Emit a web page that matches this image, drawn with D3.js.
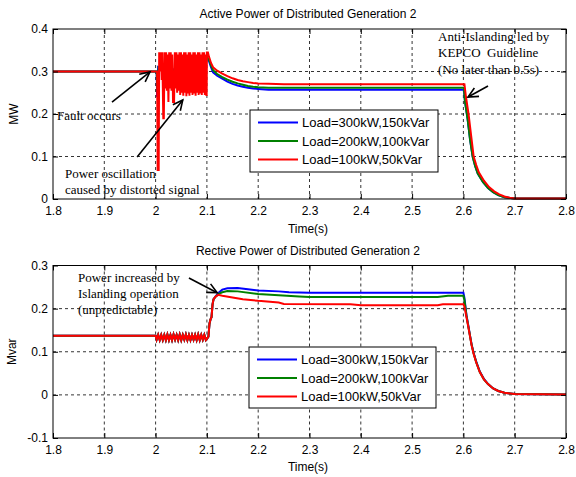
<!DOCTYPE html>
<html>
<head>
<meta charset="utf-8">
<script src="https://cdn.jsdelivr.net/npm/d3@7"></script>
<style>
  html, body { margin: 0; padding: 0; background: #fff; }
  svg { display: block; }
  text { fill: #000; }
</style>
</head>
<body>
<svg id="chart" width="576" height="477"></svg>
<script>
// ---- Data -------------------------------------------------------------
const timeTicks = [1.8, 1.9, 2.0, 2.1, 2.2, 2.3, 2.4, 2.5, 2.6, 2.7, 2.8];
const timeTickLabels = ["1.8", "1.9", "2", "2.1", "2.2", "2.3", "2.4", "2.5", "2.6", "2.7", "2.8"];
const activeTicks = [0, 0.1, 0.2, 0.3, 0.4];
const activeTickLabels = ["0", "0.1", "0.2", "0.3", "0.4"];
const reactiveTicks = [-0.1, 0, 0.1, 0.2, 0.3];
const reactiveTickLabels = ["-0.1", "0", "0.1", "0.2", "0.3"];

const seriesNames = ["Load=300kW,150kVar", "Load=200kW,100kVar", "Load=100kW,50kVar"];
const seriesColors = ["#0000ff", "#008000", "#ff0000"];

// Active power [time s, MW]
const activeLoad300 = [
  [1.8, 0.3], [2.0, 0.3], [2.002, 0.3], [2.003, 0.24], [2.005, 0.31], [2.02, 0.3], [2.05, 0.31],
  [2.08, 0.3], [2.1, 0.33], [2.104, 0.325], [2.108, 0.31], [2.112, 0.298], [2.12, 0.29],
  [2.13, 0.283], [2.14, 0.276], [2.15, 0.271], [2.16, 0.267], [2.17, 0.264], [2.18, 0.262],
  [2.19, 0.26], [2.2, 0.259], [2.22, 0.257], [2.26, 0.257], [2.6, 0.257], [2.601, 0.257],
  [2.603, 0.23], [2.608, 0.19], [2.613, 0.14], [2.618, 0.1], [2.623, 0.077], [2.628, 0.06],
  [2.638, 0.04], [2.648, 0.026], [2.658, 0.016], [2.668, 0.009], [2.68, 0.004], [2.7, 0.001],
  [2.8, 0.001]
];
const activeLoad200 = [
  [1.8, 0.3], [2.0, 0.3], [2.002, 0.3], [2.004, 0.25], [2.006, 0.31], [2.03, 0.3], [2.06, 0.31],
  [2.09, 0.3], [2.1, 0.335], [2.104, 0.328], [2.108, 0.315], [2.112, 0.303], [2.12, 0.294],
  [2.13, 0.287], [2.14, 0.281], [2.15, 0.276], [2.16, 0.272], [2.17, 0.269], [2.18, 0.266],
  [2.19, 0.264], [2.2, 0.263], [2.22, 0.262], [2.26, 0.262], [2.6, 0.262], [2.601, 0.262],
  [2.603, 0.23], [2.608, 0.19], [2.613, 0.14], [2.618, 0.1], [2.623, 0.077], [2.628, 0.06],
  [2.638, 0.04], [2.648, 0.026], [2.658, 0.016], [2.668, 0.009], [2.68, 0.004], [2.7, 0.001],
  [2.8, 0.001]
];
const activeLoad100 = [
  [1.8, 0.3], [2.0, 0.3], [2.002, 0.3], [2.003, 0.3], [2.004, 0.068], [2.006, 0.068],
  [2.007, 0.345], [2.009, 0.3], [2.0105, 0.345], [2.012, 0.28], [2.013, 0.345], [2.015, 0.19],
  [2.016, 0.19], [2.0175, 0.345], [2.019, 0.26], [2.0205, 0.345], [2.022, 0.255], [2.0235, 0.34],
  [2.025, 0.228], [2.0265, 0.345], [2.028, 0.26], [2.0295, 0.345], [2.031, 0.255], [2.0325, 0.34],
  [2.034, 0.228], [2.036, 0.228], [2.0375, 0.345], [2.039, 0.26], [2.0405, 0.345], [2.042, 0.25],
  [2.0435, 0.34], [2.045, 0.255], [2.0465, 0.345], [2.048, 0.245], [2.0495, 0.345], [2.051, 0.25],
  [2.0525, 0.34], [2.054, 0.243], [2.0555, 0.345], [2.057, 0.25], [2.0585, 0.345], [2.06, 0.242],
  [2.0615, 0.34], [2.063, 0.248], [2.0645, 0.345], [2.066, 0.243], [2.0675, 0.345], [2.069, 0.25],
  [2.0705, 0.34], [2.072, 0.245], [2.0735, 0.345], [2.075, 0.248], [2.0765, 0.345], [2.078, 0.243],
  [2.0795, 0.34], [2.081, 0.25], [2.0825, 0.345], [2.084, 0.245], [2.0855, 0.345], [2.087, 0.248],
  [2.0885, 0.34], [2.09, 0.245], [2.0915, 0.345], [2.093, 0.25], [2.0945, 0.345], [2.096, 0.245],
  [2.0975, 0.34], [2.099, 0.245], [2.0995, 0.245], [2.1, 0.345], [2.102, 0.345], [2.104, 0.335],
  [2.108, 0.32], [2.112, 0.31], [2.12, 0.302], [2.13, 0.295], [2.14, 0.289], [2.15, 0.284],
  [2.16, 0.28], [2.17, 0.277], [2.18, 0.275], [2.19, 0.273], [2.2, 0.272], [2.22, 0.271],
  [2.25, 0.27], [2.6, 0.27], [2.602, 0.27], [2.605, 0.24], [2.61, 0.2], [2.615, 0.15],
  [2.62, 0.1], [2.625, 0.08], [2.63, 0.063], [2.64, 0.043], [2.65, 0.028], [2.66, 0.018],
  [2.67, 0.011], [2.68, 0.006], [2.69, 0.003], [2.7, 0.001], [2.8, 0.001]
];

// Reactive power [time s, Mvar]
const reactiveBase = [
  [1.8, 0.137], [2.0, 0.137], [2.002, 0.128], [2.005, 0.139], [2.008, 0.127], [2.011, 0.139],
  [2.014, 0.127], [2.017, 0.139], [2.02, 0.127], [2.023, 0.14], [2.026, 0.127], [2.029, 0.139],
  [2.032, 0.127], [2.035, 0.14], [2.038, 0.128], [2.041, 0.139], [2.044, 0.127], [2.047, 0.14],
  [2.05, 0.127], [2.053, 0.139], [2.056, 0.128], [2.059, 0.14], [2.062, 0.127], [2.065, 0.139],
  [2.068, 0.127], [2.071, 0.139], [2.074, 0.128], [2.077, 0.139], [2.08, 0.127], [2.083, 0.14],
  [2.086, 0.127], [2.089, 0.139], [2.092, 0.128], [2.095, 0.139], [2.098, 0.127], [2.1, 0.13],
  [2.103, 0.135], [2.105, 0.165], [2.107, 0.175], [2.109, 0.18], [2.111, 0.21], [2.113, 0.222]
];
const reactiveLoad300 = reactiveBase.concat([
  [2.118, 0.23], [2.124, 0.238], [2.13, 0.244], [2.14, 0.247], [2.16, 0.248], [2.18, 0.245],
  [2.2, 0.242], [2.24, 0.24], [2.26, 0.238], [2.3, 0.237], [2.6, 0.237], [2.602, 0.225],
  [2.606, 0.185], [2.61, 0.158], [2.613, 0.137], [2.616, 0.117], [2.62, 0.097], [2.625, 0.077],
  [2.632, 0.054], [2.64, 0.037], [2.648, 0.025], [2.658, 0.015], [2.668, 0.009], [2.68, 0.005],
  [2.7, 0.002], [2.8, 0.001]
]);
const reactiveLoad200 = reactiveBase.concat([
  [2.118, 0.229], [2.124, 0.235], [2.13, 0.238], [2.14, 0.241], [2.16, 0.24], [2.2, 0.234],
  [2.24, 0.231], [2.28, 0.228], [2.3, 0.227], [2.55, 0.227], [2.57, 0.23], [2.6, 0.23],
  [2.602, 0.22], [2.606, 0.183], [2.61, 0.156], [2.613, 0.136], [2.616, 0.116], [2.62, 0.096],
  [2.625, 0.076], [2.632, 0.053], [2.64, 0.036], [2.648, 0.025], [2.658, 0.015], [2.668, 0.009],
  [2.68, 0.005], [2.7, 0.002], [2.8, 0.001]
]);
const reactiveLoad100 = reactiveBase.concat([
  [2.117, 0.228], [2.122, 0.232], [2.13, 0.23], [2.15, 0.226], [2.17, 0.222], [2.2, 0.218],
  [2.24, 0.214], [2.25, 0.211], [2.38, 0.21], [2.4, 0.208], [2.55, 0.208], [2.56, 0.21],
  [2.6, 0.21], [2.602, 0.205], [2.606, 0.18], [2.61, 0.155], [2.613, 0.135], [2.616, 0.115],
  [2.62, 0.095], [2.625, 0.075], [2.632, 0.053], [2.64, 0.036], [2.648, 0.025], [2.658, 0.015],
  [2.668, 0.009], [2.68, 0.005], [2.7, 0.002], [2.8, 0.001]
]);

// ---- Drawing ----------------------------------------------------------
const svg = d3.select("#chart");
svg.append("rect").attr("width", 576).attr("height", 477).attr("fill", "#fff");

const sansFont = "'Liberation Sans', Arial, sans-serif";
const serifFont = "'Liberation Serif', 'Times New Roman', serif";

function drawPanel(cfg) {
  const x = d3.scaleLinear().domain([1.8, 2.8]).range([53, 566]);
  const y = d3.scaleLinear().domain(cfg.yDomain).range(cfg.yRange);
  const g = svg.append("g");
  const [x0, x1] = x.range();
  const [yb, yt] = y.range();

  // dashed grid
  g.append("g").selectAll("line.vg").data(timeTicks.slice(1, -1)).join("line")
    .attr("x1", d => x(d)).attr("x2", d => x(d)).attr("y1", yt).attr("y2", yb)
    .attr("stroke", "#000").attr("stroke-width", 0.8).attr("stroke-dasharray", "3,3");
  g.append("g").selectAll("line.hg").data(cfg.yTicks.slice(1, -1)).join("line")
    .attr("x1", x0).attr("x2", x1).attr("y1", d => y(d)).attr("y2", d => y(d))
    .attr("stroke", "#000").attr("stroke-width", 0.8).attr("stroke-dasharray", "3,3");

  // series
  const line = d3.line().x(d => x(d[0])).y(d => y(d[1]));
  cfg.series.forEach((s, i) => {
    g.append("path").datum(s).attr("d", line)
      .attr("fill", "none").attr("stroke", seriesColors[i])
      .attr("stroke-width", 2).attr("stroke-linejoin", "miter");
  });

  // axes
  const xAxis = d3.axisBottom(x).tickValues(timeTicks)
    .tickFormat((d, i) => timeTickLabels[i]).tickSizeInner(-5).tickSizeOuter(0).tickPadding(7);
  const yAxis = d3.axisLeft(y).tickValues(cfg.yTicks)
    .tickFormat((d, i) => cfg.yTickLabels[i]).tickSizeInner(-5).tickSizeOuter(0).tickPadding(5);
  const xa = g.append("g").attr("transform", `translate(0,${yb})`).call(xAxis);
  const ya = g.append("g").attr("transform", `translate(${x0},0)`).call(yAxis);
  const xTop = g.append("g").attr("transform", `translate(0,${yt})`)
    .call(d3.axisTop(x).tickValues(timeTicks).tickFormat("").tickSizeInner(-5).tickSizeOuter(0));
  const yRight = g.append("g").attr("transform", `translate(${x1},0)`)
    .call(d3.axisRight(y).tickValues(cfg.yTicks).tickFormat("").tickSizeInner(-5).tickSizeOuter(0));
  [xa, ya, xTop, yRight].forEach(a => {
    a.select(".domain").remove();
    a.selectAll("line").attr("stroke", "#000");
    a.selectAll("text").attr("font-family", sansFont).attr("font-size", 12).attr("fill", "#000");
  });
  g.append("rect").attr("x", x0).attr("y", yt).attr("width", x1 - x0).attr("height", yb - yt)
    .attr("fill", "none").attr("stroke", "#000").attr("stroke-width", 1);

  // titles
  g.append("text").attr("x", 308).attr("y", cfg.titleY).attr("text-anchor", "middle")
    .attr("font-family", sansFont).attr("font-size", 12).text(cfg.title);
  g.append("text").attr("x", 308).attr("y", cfg.xLabelY).attr("text-anchor", "middle")
    .attr("font-family", sansFont).attr("font-size", 12).text("Time(s)");
  g.append("text").attr("transform", `translate(${cfg.yLabelX},${(yt + yb) / 2}) rotate(-90)`)
    .attr("text-anchor", "middle").attr("font-family", sansFont).attr("font-size", 12)
    .text(cfg.yLabel);

  // legend
  const lg = g.append("g");
  lg.append("rect").attr("x", cfg.legend.x).attr("y", cfg.legend.y)
    .attr("width", cfg.legend.w).attr("height", cfg.legend.h)
    .attr("fill", "#fff").attr("stroke", "#000").attr("stroke-width", 1);
  seriesNames.forEach((name, i) => {
    const ly = cfg.legend.y + 12.5 + i * 18.5;
    lg.append("line").attr("x1", cfg.legend.x + 8).attr("x2", cfg.legend.x + 48)
      .attr("y1", ly).attr("y2", ly).attr("stroke", seriesColors[i]).attr("stroke-width", 2);
    lg.append("text").attr("x", cfg.legend.x + 52).attr("y", ly + 4.5)
      .attr("font-family", sansFont).attr("font-size", 13).text(name);
  });

  // annotations
  cfg.notes.forEach(n => {
    const t = g.append("text").attr("font-family", serifFont).attr("font-size", 13);
    n.lines.forEach((s, i) => {
      t.append("tspan").attr("x", n.x).attr("y", n.y + i * 16.3).attr("xml:space", "preserve").text(s);
    });
  });
  cfg.arrows.forEach(a => {
    const tx = x(a.tip[0]), ty = y(a.tip[1]);
    const fx = x(a.tail[0]), fy = y(a.tail[1]);
    const ang = Math.atan2(ty - fy, tx - fx);
    const len = 11, spread = 0.45;
    g.append("line").attr("x1", fx).attr("y1", fy).attr("x2", tx).attr("y2", ty)
      .attr("stroke", "#000").attr("stroke-width", 1.6);
    const p = [
      [tx - len * Math.cos(ang - spread), ty - len * Math.sin(ang - spread)],
      [tx, ty],
      [tx - len * Math.cos(ang + spread), ty - len * Math.sin(ang + spread)]
    ];
    g.append("path").attr("d", d3.line()(p)).attr("fill", "none")
      .attr("stroke", "#000").attr("stroke-width", 1.6);
  });
}

drawPanel({
  title: "Active Power of Distributed Generation 2",
  titleY: 18, xLabelY: 233, yLabel: "MW", yLabelX: 18,
  yDomain: [0, 0.4], yRange: [199, 29],
  yTicks: activeTicks, yTickLabels: activeTickLabels,
  series: [activeLoad300, activeLoad200, activeLoad100],
  legend: { x: 250, y: 110, w: 188, h: 62 },
  notes: [
    { x: 57, y: 120, lines: ["Fault occurs"] },
    { x: 65, y: 177.5, lines: ["Power oscillation", "caused by distorted signal"] },
    { x: 438, y: 41, lines: ["Anti-Islanding led by", "KEPCO  Guideline", "(No later than 0.5s)"] }
  ],
  arrows: [
    { tail: [1.915, 0.228], tip: [1.989, 0.299] },
    { tail: [1.964, 0.099], tip: [2.053, 0.233] },
    { tail: [2.648, 0.266], tip: [2.609, 0.24] }
  ]
});

drawPanel({
  title: "Rective Power of Distributed Generation 2",
  titleY: 255, xLabelY: 471, yLabel: "Mvar", yLabelX: 16,
  yDomain: [-0.1, 0.3], yRange: [438, 265.5],
  yTicks: reactiveTicks, yTickLabels: reactiveTickLabels,
  series: [reactiveLoad300, reactiveLoad200, reactiveLoad100],
  legend: { x: 249, y: 347, w: 187, h: 61 },
  notes: [
    { x: 78, y: 281.5, lines: ["Power increased by", "Islanding operation", "(unpredictable)"] }
  ],
  arrows: [
    { tail: [2.065, 0.271], tip: [2.12, 0.237] }
  ]
});
</script>
</body>
</html>
